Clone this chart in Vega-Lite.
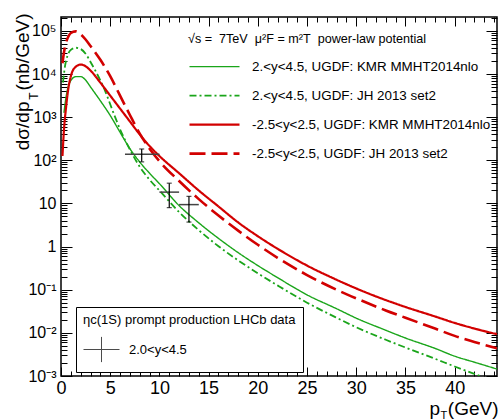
{
  "$schema": "https://vega.github.io/schema/vega-lite/v6.json",
  "width": 436,
  "height": 359,
  "autosize": {"type": "none"},
  "padding": {"left": 61, "top": 17, "right": 3, "bottom": 43},
  "background": "white",
  "config": {
    "view": {"stroke": "black", "strokeWidth": 1.5},
    "font": "Liberation Sans",
    "axis": {"domain": false, "grid": false, "tickColor": "black", "tickWidth": 1, "labelColor": "black", "titleColor": "black", "labelFont": "Liberation Sans", "titleFont": "Liberation Sans", "titleFontWeight": "normal", "labelFlush": false, "labelOverlap": false},
    "legend": {"labelFont": "Liberation Sans", "titleFont": "Liberation Sans", "labelColor": "black", "titleColor": "black", "titleFontWeight": "normal"}
  },
  "datasets": {
    "curves": [
      {"series": "2.<y<4.5, UGDF: KMR MMHT2014nlo", "pt": 0.3, "v": 1259},
      {"series": "2.<y<4.5, UGDF: KMR MMHT2014nlo", "pt": 0.5, "v": 2818},
      {"series": "2.<y<4.5, UGDF: KMR MMHT2014nlo", "pt": 0.75, "v": 5248},
      {"series": "2.<y<4.5, UGDF: KMR MMHT2014nlo", "pt": 1, "v": 7079},
      {"series": "2.<y<4.5, UGDF: KMR MMHT2014nlo", "pt": 1.5, "v": 8710},
      {"series": "2.<y<4.5, UGDF: KMR MMHT2014nlo", "pt": 2, "v": 8710},
      {"series": "2.<y<4.5, UGDF: KMR MMHT2014nlo", "pt": 2.5, "v": 7244},
      {"series": "2.<y<4.5, UGDF: KMR MMHT2014nlo", "pt": 3, "v": 5012},
      {"series": "2.<y<4.5, UGDF: KMR MMHT2014nlo", "pt": 4, "v": 2399},
      {"series": "2.<y<4.5, UGDF: KMR MMHT2014nlo", "pt": 5, "v": 1096},
      {"series": "2.<y<4.5, UGDF: KMR MMHT2014nlo", "pt": 6, "v": 447},
      {"series": "2.<y<4.5, UGDF: KMR MMHT2014nlo", "pt": 7, "v": 186},
      {"series": "2.<y<4.5, UGDF: KMR MMHT2014nlo", "pt": 8, "v": 91.2},
      {"series": "2.<y<4.5, UGDF: KMR MMHT2014nlo", "pt": 9, "v": 50.1},
      {"series": "2.<y<4.5, UGDF: KMR MMHT2014nlo", "pt": 10, "v": 28.8},
      {"series": "2.<y<4.5, UGDF: KMR MMHT2014nlo", "pt": 12, "v": 8.91},
      {"series": "2.<y<4.5, UGDF: KMR MMHT2014nlo", "pt": 14, "v": 3.55},
      {"series": "2.<y<4.5, UGDF: KMR MMHT2014nlo", "pt": 16, "v": 1.55},
      {"series": "2.<y<4.5, UGDF: KMR MMHT2014nlo", "pt": 18, "v": 0.724},
      {"series": "2.<y<4.5, UGDF: KMR MMHT2014nlo", "pt": 20, "v": 0.363},
      {"series": "2.<y<4.5, UGDF: KMR MMHT2014nlo", "pt": 22, "v": 0.191},
      {"series": "2.<y<4.5, UGDF: KMR MMHT2014nlo", "pt": 25, "v": 0.0759},
      {"series": "2.<y<4.5, UGDF: KMR MMHT2014nlo", "pt": 28, "v": 0.0363},
      {"series": "2.<y<4.5, UGDF: KMR MMHT2014nlo", "pt": 30, "v": 0.0219},
      {"series": "2.<y<4.5, UGDF: KMR MMHT2014nlo", "pt": 33, "v": 0.0115},
      {"series": "2.<y<4.5, UGDF: KMR MMHT2014nlo", "pt": 35, "v": 0.00759},
      {"series": "2.<y<4.5, UGDF: KMR MMHT2014nlo", "pt": 38, "v": 0.00437},
      {"series": "2.<y<4.5, UGDF: KMR MMHT2014nlo", "pt": 40, "v": 0.00288},
      {"series": "2.<y<4.5, UGDF: KMR MMHT2014nlo", "pt": 42, "v": 0.00209},
      {"series": "2.<y<4.5, UGDF: KMR MMHT2014nlo", "pt": 44.3, "v": 0.00145},

      {"series": "2.<y<4.5, UGDF: JH 2013 set2", "pt": 0.2, "v": 6310},
      {"series": "2.<y<4.5, UGDF: JH 2013 set2", "pt": 0.4, "v": 14791},
      {"series": "2.<y<4.5, UGDF: JH 2013 set2", "pt": 0.7, "v": 28184},
      {"series": "2.<y<4.5, UGDF: JH 2013 set2", "pt": 1, "v": 36308},
      {"series": "2.<y<4.5, UGDF: JH 2013 set2", "pt": 1.5, "v": 40738},
      {"series": "2.<y<4.5, UGDF: JH 2013 set2", "pt": 2, "v": 38019},
      {"series": "2.<y<4.5, UGDF: JH 2013 set2", "pt": 2.5, "v": 29512},
      {"series": "2.<y<4.5, UGDF: JH 2013 set2", "pt": 3, "v": 19055},
      {"series": "2.<y<4.5, UGDF: JH 2013 set2", "pt": 4, "v": 7079},
      {"series": "2.<y<4.5, UGDF: JH 2013 set2", "pt": 4.5, "v": 3981},
      {"series": "2.<y<4.5, UGDF: JH 2013 set2", "pt": 5, "v": 1995},
      {"series": "2.<y<4.5, UGDF: JH 2013 set2", "pt": 5.5, "v": 1000},
      {"series": "2.<y<4.5, UGDF: JH 2013 set2", "pt": 6, "v": 525},
      {"series": "2.<y<4.5, UGDF: JH 2013 set2", "pt": 7, "v": 178},
      {"series": "2.<y<4.5, UGDF: JH 2013 set2", "pt": 8, "v": 70.8},
      {"series": "2.<y<4.5, UGDF: JH 2013 set2", "pt": 9, "v": 35.5},
      {"series": "2.<y<4.5, UGDF: JH 2013 set2", "pt": 10, "v": 19.95},
      {"series": "2.<y<4.5, UGDF: JH 2013 set2", "pt": 12, "v": 6.31},
      {"series": "2.<y<4.5, UGDF: JH 2013 set2", "pt": 14, "v": 2.40},
      {"series": "2.<y<4.5, UGDF: JH 2013 set2", "pt": 16, "v": 1.02},
      {"series": "2.<y<4.5, UGDF: JH 2013 set2", "pt": 18, "v": 0.479},
      {"series": "2.<y<4.5, UGDF: JH 2013 set2", "pt": 20, "v": 0.240},
      {"series": "2.<y<4.5, UGDF: JH 2013 set2", "pt": 22, "v": 0.126},
      {"series": "2.<y<4.5, UGDF: JH 2013 set2", "pt": 25, "v": 0.0501},
      {"series": "2.<y<4.5, UGDF: JH 2013 set2", "pt": 28, "v": 0.0224},
      {"series": "2.<y<4.5, UGDF: JH 2013 set2", "pt": 30, "v": 0.0135},
      {"series": "2.<y<4.5, UGDF: JH 2013 set2", "pt": 33, "v": 0.00692},
      {"series": "2.<y<4.5, UGDF: JH 2013 set2", "pt": 35, "v": 0.00457},
      {"series": "2.<y<4.5, UGDF: JH 2013 set2", "pt": 38, "v": 0.00251},
      {"series": "2.<y<4.5, UGDF: JH 2013 set2", "pt": 40, "v": 0.00166},
      {"series": "2.<y<4.5, UGDF: JH 2013 set2", "pt": 42, "v": 0.00112},
      {"series": "2.<y<4.5, UGDF: JH 2013 set2", "pt": 44.3, "v": 0.00072},

      {"series": "-2.5<y<2.5, UGDF: KMR MMHT2014nlo", "pt": 0.15, "v": 126},
      {"series": "-2.5<y<2.5, UGDF: KMR MMHT2014nlo", "pt": 0.3, "v": 501},
      {"series": "-2.5<y<2.5, UGDF: KMR MMHT2014nlo", "pt": 0.5, "v": 1585},
      {"series": "-2.5<y<2.5, UGDF: KMR MMHT2014nlo", "pt": 0.75, "v": 4677},
      {"series": "-2.5<y<2.5, UGDF: KMR MMHT2014nlo", "pt": 1, "v": 8913},
      {"series": "-2.5<y<2.5, UGDF: KMR MMHT2014nlo", "pt": 1.5, "v": 14791},
      {"series": "-2.5<y<2.5, UGDF: KMR MMHT2014nlo", "pt": 2, "v": 16596},
      {"series": "-2.5<y<2.5, UGDF: KMR MMHT2014nlo", "pt": 2.5, "v": 15136},
      {"series": "-2.5<y<2.5, UGDF: KMR MMHT2014nlo", "pt": 3, "v": 12023},
      {"series": "-2.5<y<2.5, UGDF: KMR MMHT2014nlo", "pt": 4, "v": 6310},
      {"series": "-2.5<y<2.5, UGDF: KMR MMHT2014nlo", "pt": 5, "v": 3162},
      {"series": "-2.5<y<2.5, UGDF: KMR MMHT2014nlo", "pt": 6, "v": 1585},
      {"series": "-2.5<y<2.5, UGDF: KMR MMHT2014nlo", "pt": 7, "v": 794},
      {"series": "-2.5<y<2.5, UGDF: KMR MMHT2014nlo", "pt": 8, "v": 398},
      {"series": "-2.5<y<2.5, UGDF: KMR MMHT2014nlo", "pt": 9, "v": 214},
      {"series": "-2.5<y<2.5, UGDF: KMR MMHT2014nlo", "pt": 10, "v": 126},
      {"series": "-2.5<y<2.5, UGDF: KMR MMHT2014nlo", "pt": 12, "v": 50.1},
      {"series": "-2.5<y<2.5, UGDF: KMR MMHT2014nlo", "pt": 14, "v": 19.95},
      {"series": "-2.5<y<2.5, UGDF: KMR MMHT2014nlo", "pt": 16, "v": 8.51},
      {"series": "-2.5<y<2.5, UGDF: KMR MMHT2014nlo", "pt": 18, "v": 3.63},
      {"series": "-2.5<y<2.5, UGDF: KMR MMHT2014nlo", "pt": 20, "v": 1.74},
      {"series": "-2.5<y<2.5, UGDF: KMR MMHT2014nlo", "pt": 22, "v": 0.891},
      {"series": "-2.5<y<2.5, UGDF: KMR MMHT2014nlo", "pt": 25, "v": 0.363},
      {"series": "-2.5<y<2.5, UGDF: KMR MMHT2014nlo", "pt": 28, "v": 0.170},
      {"series": "-2.5<y<2.5, UGDF: KMR MMHT2014nlo", "pt": 30, "v": 0.107},
      {"series": "-2.5<y<2.5, UGDF: KMR MMHT2014nlo", "pt": 33, "v": 0.0575},
      {"series": "-2.5<y<2.5, UGDF: KMR MMHT2014nlo", "pt": 35, "v": 0.0398},
      {"series": "-2.5<y<2.5, UGDF: KMR MMHT2014nlo", "pt": 38, "v": 0.0240},
      {"series": "-2.5<y<2.5, UGDF: KMR MMHT2014nlo", "pt": 40, "v": 0.0170},
      {"series": "-2.5<y<2.5, UGDF: KMR MMHT2014nlo", "pt": 42, "v": 0.0126},
      {"series": "-2.5<y<2.5, UGDF: KMR MMHT2014nlo", "pt": 44.3, "v": 0.00933},

      {"series": "-2.5<y<2.5, UGDF: JH 2013 set2", "pt": 0.15, "v": 17783},
      {"series": "-2.5<y<2.5, UGDF: JH 2013 set2", "pt": 0.3, "v": 31623},
      {"series": "-2.5<y<2.5, UGDF: JH 2013 set2", "pt": 0.5, "v": 52481},
      {"series": "-2.5<y<2.5, UGDF: JH 2013 set2", "pt": 0.75, "v": 74131},
      {"series": "-2.5<y<2.5, UGDF: JH 2013 set2", "pt": 1, "v": 89125},
      {"series": "-2.5<y<2.5, UGDF: JH 2013 set2", "pt": 1.5, "v": 97724},
      {"series": "-2.5<y<2.5, UGDF: JH 2013 set2", "pt": 2, "v": 83176},
      {"series": "-2.5<y<2.5, UGDF: JH 2013 set2", "pt": 2.5, "v": 63096},
      {"series": "-2.5<y<2.5, UGDF: JH 2013 set2", "pt": 3, "v": 44668},
      {"series": "-2.5<y<2.5, UGDF: JH 2013 set2", "pt": 4, "v": 21380},
      {"series": "-2.5<y<2.5, UGDF: JH 2013 set2", "pt": 5, "v": 8913},
      {"series": "-2.5<y<2.5, UGDF: JH 2013 set2", "pt": 6, "v": 3162},
      {"series": "-2.5<y<2.5, UGDF: JH 2013 set2", "pt": 7, "v": 1122},
      {"series": "-2.5<y<2.5, UGDF: JH 2013 set2", "pt": 8, "v": 417},
      {"series": "-2.5<y<2.5, UGDF: JH 2013 set2", "pt": 9, "v": 186},
      {"series": "-2.5<y<2.5, UGDF: JH 2013 set2", "pt": 10, "v": 95.5},
      {"series": "-2.5<y<2.5, UGDF: JH 2013 set2", "pt": 12, "v": 33.1},
      {"series": "-2.5<y<2.5, UGDF: JH 2013 set2", "pt": 14, "v": 12.6},
      {"series": "-2.5<y<2.5, UGDF: JH 2013 set2", "pt": 16, "v": 5.25},
      {"series": "-2.5<y<2.5, UGDF: JH 2013 set2", "pt": 18, "v": 2.34},
      {"series": "-2.5<y<2.5, UGDF: JH 2013 set2", "pt": 20, "v": 1.10},
      {"series": "-2.5<y<2.5, UGDF: JH 2013 set2", "pt": 22, "v": 0.550},
      {"series": "-2.5<y<2.5, UGDF: JH 2013 set2", "pt": 25, "v": 0.219},
      {"series": "-2.5<y<2.5, UGDF: JH 2013 set2", "pt": 28, "v": 0.100},
      {"series": "-2.5<y<2.5, UGDF: JH 2013 set2", "pt": 30, "v": 0.0631},
      {"series": "-2.5<y<2.5, UGDF: JH 2013 set2", "pt": 33, "v": 0.0331},
      {"series": "-2.5<y<2.5, UGDF: JH 2013 set2", "pt": 35, "v": 0.0224},
      {"series": "-2.5<y<2.5, UGDF: JH 2013 set2", "pt": 38, "v": 0.0126},
      {"series": "-2.5<y<2.5, UGDF: JH 2013 set2", "pt": 40, "v": 0.00851},
      {"series": "-2.5<y<2.5, UGDF: JH 2013 set2", "pt": 42, "v": 0.00617},
      {"series": "-2.5<y<2.5, UGDF: JH 2013 set2", "pt": 44.3, "v": 0.00437}
    ],
    "lhcb": [
      {"set": "2.0<y<4.5", "x": 8.2, "xlo": 6.5, "xhi": 10, "y": 138, "ylo": 92, "yhi": 183},
      {"set": "2.0<y<4.5", "x": 11, "xlo": 10, "xhi": 12, "y": 18.3, "ylo": 8, "yhi": 29.5},
      {"set": "2.0<y<4.5", "x": 13, "xlo": 12, "xhi": 14, "y": 9.4, "ylo": 3.7, "yhi": 14.6}
    ]
  },
  "resolve": {"axis": {"x": "independent", "y": "independent"}},
  "layer": [
    {
      "data": {"name": "curves"},
      "mark": {"type": "line", "clip": true, "interpolate": "monotone"},
      "encoding": {
        "x": {"field": "pt", "type": "quantitative",
          "scale": {"domain": [0, 44.3], "nice": false, "zero": false},
          "axis": {"orient": "bottom", "values": [0, 5, 10, 15, 20, 25, 30, 35, 40], "tickSize": -9, "labelPadding": 12, "labelFontSize": 18,
            "title": "(GeV)", "titleFontSize": 19, "titleAlign": "right", "titleBaseline": "alphabetic", "titleX": 437, "titleY": 38}},
        "y": {"field": "v", "type": "quantitative",
          "scale": {"type": "log", "domain": [0.001, 210000], "nice": false},
          "axis": {"orient": "left", "values": [0.001, 0.01, 0.1, 1, 10, 100, 1000, 10000, 100000], "tickSize": -11, "labelPadding": 16, "labelFontSize": 16, "labelBaseline": "middle",
            "labelExpr": "['10⁻³','10⁻²','10⁻¹','1','10','10²','10³','10⁴','10⁵'][round(log(datum.value)/LN10)+3]",
            "title": "(nb/GeV)", "titleFontSize": 19, "titleAngle": -90, "titleAlign": "right", "titleBaseline": "alphabetic", "titleX": -33, "titleY": -4}},
        "color": {"field": "series", "type": "nominal",
          "scale": {"domain": ["2.<y<4.5, UGDF: KMR MMHT2014nlo", "2.<y<4.5, UGDF: JH 2013 set2", "-2.5<y<2.5, UGDF: KMR MMHT2014nlo", "-2.5<y<2.5, UGDF: JH 2013 set2"], "range": ["#1aa51a", "#1aa51a", "#d20000", "#d20000"]},
          "legend": {"title": "√s =\u00a0 7TeV\u00a0 μ²F = m²T\u00a0 power-law potential", "orient": "none", "legendX": 127, "legendY": 16, "padding": 0, "symbolType": "stroke", "symbolSize": 2500, "clipHeight": 16, "rowPadding": 13, "labelOffset": 11, "labelFontSize": 13.4, "titleFontSize": 12.6, "titlePadding": 13, "labelLimit": 400, "titleLimit": 400}},
        "strokeDash": {"field": "series", "type": "nominal",
          "scale": {"domain": ["2.<y<4.5, UGDF: KMR MMHT2014nlo", "2.<y<4.5, UGDF: JH 2013 set2", "-2.5<y<2.5, UGDF: KMR MMHT2014nlo", "-2.5<y<2.5, UGDF: JH 2013 set2"], "range": [[1, 0], [7, 3, 2, 3], [1, 0], [16, 6]]},
          "legend": {"title": "√s =\u00a0 7TeV\u00a0 μ²F = m²T\u00a0 power-law potential", "orient": "none", "legendX": 127, "legendY": 16, "padding": 0, "symbolType": "stroke", "symbolSize": 2500, "clipHeight": 16, "rowPadding": 13, "labelOffset": 11, "labelFontSize": 13.4, "titleFontSize": 12.6, "titlePadding": 13, "labelLimit": 400, "titleLimit": 400}},
        "strokeWidth": {"field": "series", "type": "nominal",
          "scale": {"type": "point", "domain": ["2.<y<4.5, UGDF: KMR MMHT2014nlo", "2.<y<4.5, UGDF: JH 2013 set2", "-2.5<y<2.5, UGDF: KMR MMHT2014nlo", "-2.5<y<2.5, UGDF: JH 2013 set2"], "range": [1.4, 2.6], "padding": 0},
          "legend": {"title": "√s =\u00a0 7TeV\u00a0 μ²F = m²T\u00a0 power-law potential", "orient": "none", "legendX": 127, "legendY": 16, "padding": 0, "symbolType": "stroke", "symbolSize": 2500, "clipHeight": 16, "rowPadding": 13, "labelOffset": 11, "labelFontSize": 13.4, "titleFontSize": 12.6, "titlePadding": 13, "labelLimit": 400, "titleLimit": 400}}
      }
    },
    {
      "data": {"name": "lhcb"},
      "mark": {"type": "rule", "color": "#444444", "strokeWidth": 1.5},
      "encoding": {
        "x": {"field": "xlo", "type": "quantitative", "scale": {"domain": [0, 44.3], "nice": false, "zero": false},
          "axis": {"orient": "top", "values": [0, 5, 10, 15, 20, 25, 30, 35, 40], "tickSize": -9, "labels": false, "title": null}},
        "x2": {"field": "xhi"},
        "y": {"field": "y", "type": "quantitative", "scale": {"type": "log", "domain": [0.001, 210000], "nice": false},
          "axis": {"orient": "right", "values": [0.001, 0.01, 0.1, 1, 10, 100, 1000, 10000, 100000], "tickSize": -11, "labels": false, "title": null}}
      }
    },
    {
      "data": {"name": "lhcb"},
      "mark": {"type": "rule", "color": "black", "strokeWidth": 1.2},
      "encoding": {
        "x": {"field": "x", "type": "quantitative", "scale": {"domain": [0, 44.3], "nice": false, "zero": false},
          "axis": {"orient": "top", "values": [1, 2, 3, 4, 6, 7, 8, 9, 11, 12, 13, 14, 16, 17, 18, 19, 21, 22, 23, 24, 26, 27, 28, 29, 31, 32, 33, 34, 36, 37, 38, 39, 41, 42, 43, 44], "tickSize": -5, "labels": false, "title": null}},
        "y": {"field": "ylo", "type": "quantitative", "scale": {"type": "log", "domain": [0.001, 210000], "nice": false},
          "axis": {"orient": "right", "values": [0.002, 0.003, 0.004, 0.005, 0.006, 0.007, 0.008, 0.009, 0.02, 0.03, 0.04, 0.05, 0.06, 0.07, 0.08, 0.09, 0.2, 0.3, 0.4, 0.5, 0.6, 0.7, 0.8, 0.9, 2, 3, 4, 5, 6, 7, 8, 9, 20, 30, 40, 50, 60, 70, 80, 90, 200, 300, 400, 500, 600, 700, 800, 900, 2000, 3000, 4000, 5000, 6000, 7000, 8000, 9000, 20000, 30000, 40000, 50000, 60000, 70000, 80000, 90000, 200000], "tickSize": -6, "labels": false, "title": null}},
        "y2": {"field": "yhi"}
      }
    },
    {
      "data": {"name": "lhcb"},
      "transform": [{"fold": ["ylo", "yhi"], "as": ["end", "yv"]}],
      "mark": {"type": "tick", "orient": "horizontal", "size": 5, "thickness": 1.2, "color": "black"},
      "encoding": {
        "x": {"field": "x", "type": "quantitative", "scale": {"domain": [0, 44.3], "nice": false, "zero": false},
          "axis": {"orient": "bottom", "values": [1, 2, 3, 4, 6, 7, 8, 9, 11, 12, 13, 14, 16, 17, 18, 19, 21, 22, 23, 24, 26, 27, 28, 29, 31, 32, 33, 34, 36, 37, 38, 39, 41, 42, 43, 44], "tickSize": -5, "labels": false,
            "title": "T", "titleFontSize": 11, "titleAlign": "left", "titleBaseline": "alphabetic", "titleX": 379, "titleY": 42}},
        "y": {"field": "yv", "type": "quantitative", "scale": {"type": "log", "domain": [0.001, 210000], "nice": false},
          "axis": {"orient": "left", "values": [0.002, 0.003, 0.004, 0.005, 0.006, 0.007, 0.008, 0.009, 0.02, 0.03, 0.04, 0.05, 0.06, 0.07, 0.08, 0.09, 0.2, 0.3, 0.4, 0.5, 0.6, 0.7, 0.8, 0.9, 2, 3, 4, 5, 6, 7, 8, 9, 20, 30, 40, 50, 60, 70, 80, 90, 200, 300, 400, 500, 600, 700, 800, 900, 2000, 3000, 4000, 5000, 6000, 7000, 8000, 9000, 20000, 30000, 40000, 50000, 60000, 70000, 80000, 90000, 200000], "tickSize": -6, "labels": false,
            "title": "T", "titleFontSize": 12, "titleAngle": -90, "titleAlign": "right", "titleBaseline": "alphabetic", "titleX": -24, "titleY": 75}}
      }
    },
    {
      "data": {"name": "lhcb"},
      "mark": {"type": "point", "filled": false, "color": "black", "size": 1, "strokeWidth": 0.5},
      "encoding": {
        "x": {"field": "x", "type": "quantitative", "scale": {"domain": [0, 44.3], "nice": false, "zero": false},
          "axis": {"orient": "bottom", "ticks": false, "labels": false, "title": "p", "titleFontSize": 19, "titleAlign": "right", "titleBaseline": "alphabetic", "titleX": 378.5, "titleY": 38}},
        "y": {"field": "y", "type": "quantitative", "scale": {"type": "log", "domain": [0.001, 210000], "nice": false},
          "axis": {"orient": "left", "ticks": false, "labels": false, "title": "dσ/dp", "titleFontSize": 19, "titleAngle": -90, "titleAlign": "right", "titleBaseline": "alphabetic", "titleX": -33, "titleY": 84}},
        "shape": {"field": "set", "type": "nominal",
          "scale": {"domain": ["2.0<y<4.5"], "range": ["M-1,0L1,0M0,-0.7L0,0.7"]},
          "legend": {"title": "ηc(1S) prompt production LHCb data", "orient": "none", "legendX": 15, "legendY": 290, "padding": 7, "strokeColor": "black", "fillColor": "white", "symbolSize": 1296, "symbolStrokeWidth": 1, "symbolStrokeColor": "black", "labelOffset": 9, "labelFontSize": 13, "titleFontSize": 13, "titlePadding": 4, "titleLimit": 400, "labelLimit": 300}}
      }
    }
  ]
}
